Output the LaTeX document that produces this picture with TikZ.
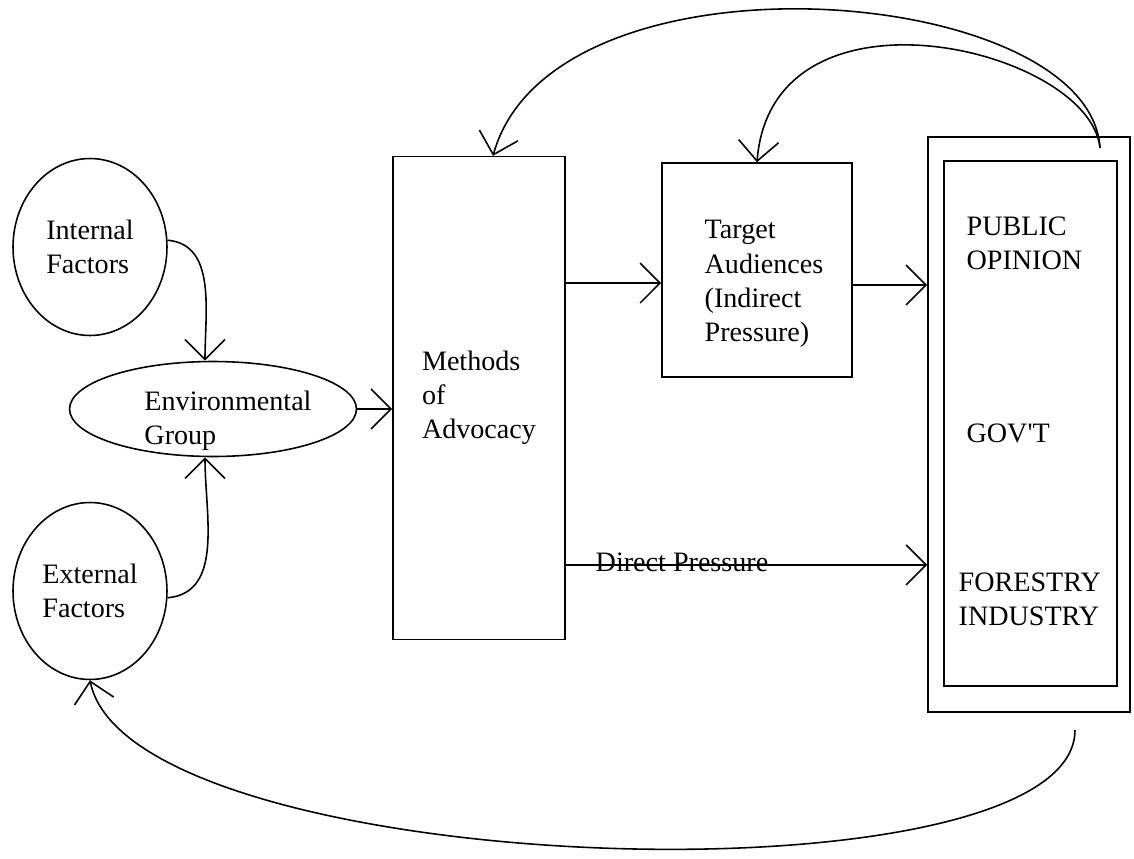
\documentclass[tikz,border=0pt]{standalone}
\usepackage{fontspec}
\setmainfont{Liberation Serif}
\usetikzlibrary{arrows.meta,shapes.geometric}

\begin{document}
\begin{tikzpicture}[x=0.02cm,y=-0.02cm,line width=0.9pt,
    font=\fontsize{16}{19.5}\selectfont,
    arr/.style={-{Straight Barb[length=0.4cm,width=0.8cm]}},
    factor/.style={draw,ellipse,inner sep=0pt,minimum width=3.08cm,minimum height=3.54cm,align=left},
    block/.style={draw,rectangle,inner sep=0pt,align=left}]
  \useasboundingbox (0,0) rectangle (1134,859);

  \node[factor] (internal) at (90,247) {Internal\\Factors};
  \node[factor] (external) at (90,591) {External\\Factors};
  \node[draw,ellipse,inner sep=0pt,minimum width=5.74cm,minimum height=1.9cm] (envgroup) at (213,409) {};
  \node[align=left] (envtext) at (228,421) {Environmental\\Group};
  \node[block,minimum width=3.44cm,minimum height=9.66cm] (methods) at (479,398) {Methods\\of\\Advocacy};
  \node[block,minimum width=3.8cm,minimum height=4.28cm] (target) at (757,270) {};
  \node[align=left] (targettext) at (764,284) {Target\\Audiences\\(Indirect\\Pressure)};
  \node[block,minimum width=4.04cm,minimum height=11.5cm] (actors) at (1029,424.5) {};
  \node[block,minimum width=3.46cm,minimum height=10.5cm] (actorsin) at (1030.5,423.5) {};
  \node[anchor=west,align=left] (public) at (960,243) {PUBLIC\\OPINION};
  \node[anchor=west] (govt) at (960,433) {GOV\textquotesingle T};
  \node[anchor=west,align=left] (forestry) at (952,599) {FORESTRY\\INDUSTRY};
  \node[anchor=base] (direct) at (682,571) {Direct Pressure};

  \coordinate (fbtop) at (1100,148);
  \coordinate (fbbot) at (1075,730);

  \draw[arr] (internal.5) to[out=-5,in=90] ([xshift=-0.16cm]envgroup.north);
  \draw[arr] (external.-5) to[out=5,in=-90] ([xshift=-0.16cm]envgroup.south);
  \draw[arr] (envgroup.east) -- (envgroup.east -| methods.west);
  \draw[arr] ([yshift=2.3cm]methods.east) -- ([yshift=-0.26cm]target.west);
  \draw[arr] ([yshift=-0.3cm]target.east) -- ([yshift=-0.3cm]target.east -| actors.west);
  \draw[arr] ([yshift=-3.34cm]methods.east) -- ([yshift=-3.34cm]methods.east -| actors.west);

  % feedback loops
  \draw[arr] (fbtop) .. controls +(-10,-165) and +(60,-215) .. ([xshift=0.28cm]methods.north);
  \draw[arr] (fbtop) .. controls +(-10,-100) and +(15,-190) .. (target.north);
  \draw[arr] (fbbot) .. controls +(0,180) and +(40,200) .. (external.south);
\end{tikzpicture}
\end{document}
